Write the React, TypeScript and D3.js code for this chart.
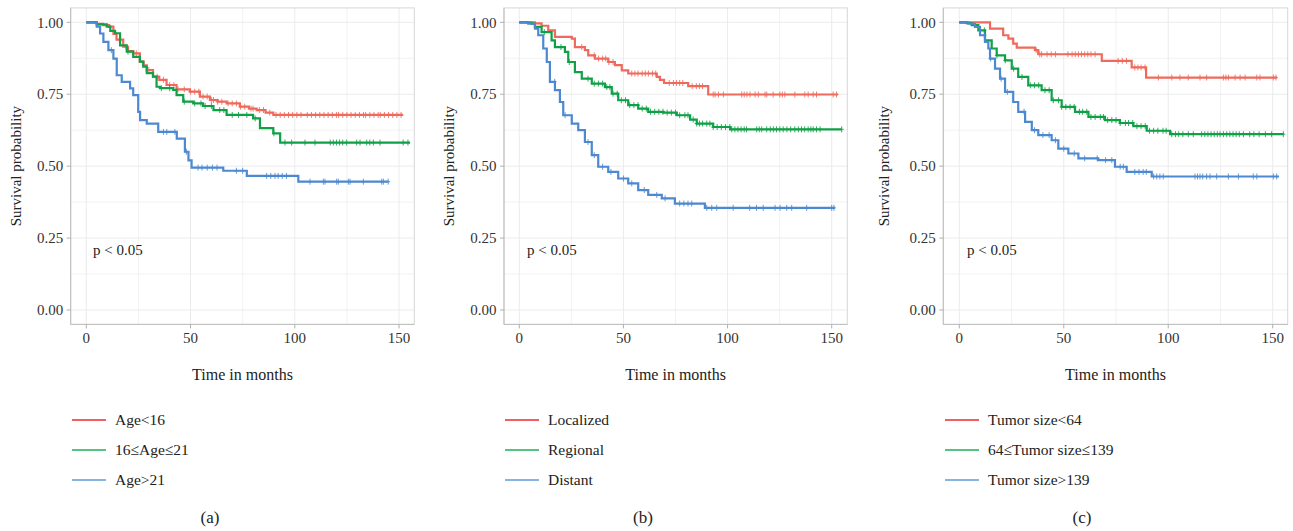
import React from "react";
import * as d3 from "d3";

// ---------- Data ----------
const yTicks = [0, 0.25, 0.5, 0.75, 1];
const xTicks = [0, 50, 100, 150];
const xMinorTicks = [25, 75, 125];
const yMinorTicks = [0.125, 0.375, 0.625, 0.875];

const panelCaptions = ["(a)", "(b)", "(c)"];
const legendA = ["Age<16", "16≤Age≤21", "Age>21"];
const legendB = ["Localized", "Regional", "Distant"];
const legendC = ["Tumor size<64", "64≤Tumor size≤139", "Tumor size>139"];
const pText = "p < 0.05";

// Panel A
const aRedT = [5, 8, 11, 13, 14.5, 17.7, 20, 22.5, 25.7, 27.5, 29, 32, 35, 38.5, 43.3, 49.7, 54.5, 59.3, 63, 67.3, 73.7, 78, 81.7, 86, 89.7];
const aRedS = [0.995, 0.99, 0.985, 0.96, 0.94, 0.915, 0.9, 0.892, 0.863, 0.85, 0.834, 0.811, 0.8, 0.782, 0.767, 0.759, 0.742, 0.73, 0.724, 0.718, 0.707, 0.7, 0.695, 0.686, 0.678];
const aRedEnd = 152;
const aRedC = [19, 24, 30, 34, 37, 40, 42, 44, 47, 50, 52, 54, 56, 58, 60, 61, 63, 65, 68, 70, 72, 74, 76, 79, 80, 83, 85, 88, 91, 93, 95, 97, 99, 101, 103, 106, 108, 110, 112, 114, 116, 118, 120, 121, 123, 125, 127, 129, 131, 133, 134, 136, 138, 140, 141, 143, 145, 147, 149, 151];

const aGreenT = [5, 9.8, 11.5, 13.8, 16.2, 19.4, 22.5, 25.7, 27.3, 29, 32, 33.7, 35.3, 41.7, 43.3, 46.5, 51.3, 56, 61, 67.3, 80, 83.3, 89.7, 93];
const aGreenS = [0.993, 0.985, 0.97, 0.962, 0.92, 0.898, 0.88, 0.863, 0.846, 0.823, 0.811, 0.776, 0.771, 0.765, 0.747, 0.724, 0.718, 0.709, 0.695, 0.678, 0.666, 0.632, 0.614, 0.582];
const aGreenEnd = 155.3;
const aGreenC = [20, 36, 40, 47, 52, 55, 57, 60, 64, 66, 70, 73, 77, 81, 90, 95.3, 98.5, 104.9, 109.7, 117, 118.5, 120, 121.5, 123, 124.9, 129.7, 131.3, 134.5, 136, 137.7, 140.9, 152, 154.3];

const aBlueT = [5, 6.6, 8.2, 10.6, 13, 14.6, 17, 21, 22.5, 24.9, 25.8, 29, 34.5, 43.4, 47.3, 49, 50.5, 65.7, 77, 101.7];
const aBlueS = [0.985, 0.961, 0.932, 0.903, 0.874, 0.816, 0.793, 0.77, 0.747, 0.689, 0.66, 0.648, 0.619, 0.596, 0.55, 0.52, 0.495, 0.484, 0.466, 0.446];
const aBlueEnd = 145;
const aBlueC = [12, 37, 38.6, 42.5, 48, 53.6, 55.5, 58, 60.5, 62.7, 72, 75, 86.5, 88.5, 90.5, 92, 94, 96, 107.3, 113.7, 114.5, 120.1, 120.9, 125.7, 126.5, 132.9, 141.7, 142.5, 144.8];

// Panel B
const bRedT = [7.5, 10.7, 13.9, 17.1, 25.2, 26.7, 31.5, 33.1, 36.3, 42.7, 45.9, 49.2, 52.3, 66, 67.5, 69.5, 81.1, 90.7];
const bRedS = [0.996, 0.988, 0.972, 0.949, 0.943, 0.914, 0.903, 0.885, 0.874, 0.862, 0.851, 0.833, 0.822, 0.81, 0.8, 0.789, 0.778, 0.749];
const bRedEnd = 153;
const bRedC = [30, 36, 38, 40, 41.5, 43, 45, 54, 55.5, 57, 59, 60.5, 62, 64, 65.5, 72, 74, 75.5, 77, 78.5, 83, 85, 86.5, 88, 93.1, 94, 95.6, 98, 106.8, 108, 109.3, 110.8, 113.2, 114.8, 118, 118.8, 121.9, 125.1, 126.3, 127.5, 132.3, 137.1, 138.7, 141.1, 142.7, 150.7, 152.3];

const bGreenT = [4.3, 6, 7.5, 10.7, 15.5, 17.1, 21.9, 23.5, 26.7, 30, 34.8, 41.1, 44.4, 47.5, 52.3, 57.1, 61.9, 69.2, 75.6, 82, 85.2, 93.1, 101.2];
const bGreenS = [0.998, 0.995, 0.984, 0.966, 0.9375, 0.914, 0.897, 0.862, 0.827, 0.804, 0.787, 0.775, 0.752, 0.729, 0.712, 0.7, 0.689, 0.686, 0.677, 0.662, 0.648, 0.636, 0.628];
const bGreenEnd = 154.8;
const bGreenC = [12, 20, 24, 33, 36, 38, 40, 42, 43.5, 45, 47, 49, 51, 53, 55, 57, 59, 61, 63, 65, 67, 69, 71, 73, 75, 77, 79.5, 81, 83.5, 85.2, 86.5, 88, 90, 91.5, 93.1, 95, 97, 99, 101.1, 102, 103.5, 105, 106.5, 108, 109.1, 114, 115.2, 116.4, 118.8, 120.5, 122, 123.5, 125.1, 126.7, 128.5, 130.3, 132.3, 134, 135.5, 137, 138.7, 140, 141.1, 142.7, 144.4, 154.8];

const bBlueT = [4.3, 7.5, 9.1, 11.5, 13.2, 14.7, 17.1, 19.5, 21.1, 25.2, 28.3, 31.5, 34.8, 37.9, 42.7, 47.5, 52.3, 57.1, 61.9, 68.4, 74.7, 89.1];
const bBlueS = [0.995, 0.978, 0.955, 0.909, 0.862, 0.793, 0.764, 0.723, 0.677, 0.648, 0.625, 0.584, 0.538, 0.498, 0.48, 0.457, 0.44, 0.417, 0.4, 0.388, 0.37, 0.355];
const bBlueEnd = 151.5;
const bBlueC = [17, 22, 33, 36, 40, 44, 50, 54, 60, 66, 70, 77, 79, 81, 82.8, 90, 92.4, 94.8, 102.7, 110.6, 113.9, 117.1, 122.8, 125.2, 128.4, 130.8, 138, 150, 151.1];

// Panel C
const cRedT = [14.7, 21, 23.5, 25.8, 27.5, 36.2, 37.8, 68.2, 82.5, 89.4];
const cRedS = [0.978, 0.955, 0.943, 0.926, 0.912, 0.903, 0.889, 0.866, 0.843, 0.808];
const cRedEnd = 152;
const cRedC = [36.8, 38.5, 39.4, 42, 44, 46, 52, 54, 55.5, 57, 58.5, 60, 61.5, 63, 65, 76, 78, 80, 84, 85.5, 87, 88.9, 95.3, 101.7, 105.6, 109.6, 115.2, 118.4, 126.4, 127.6, 128.8, 132, 134.4, 136.8, 142.4, 143.9, 150.3, 151.6];

const cGreenT = [3.5, 5.9, 9.1, 12.3, 15.5, 17.9, 21.9, 25.1, 28.2, 33, 39.4, 44.2, 49, 55.4, 61.8, 69.7, 76.9, 83.3, 89.7, 100.9];
const cGreenS = [0.997, 0.99, 0.972, 0.9375, 0.909, 0.885, 0.868, 0.839, 0.81, 0.781, 0.764, 0.729, 0.706, 0.689, 0.671, 0.66, 0.65, 0.639, 0.623, 0.611];
const cGreenEnd = 155.1;
const cGreenC = [12, 18, 22, 26, 30, 34, 36, 38, 41, 43, 45, 47.5, 49, 51, 53, 55, 57.5, 59, 61, 63, 65, 67.5, 69, 71, 73, 75, 77, 79.5, 81, 83, 85, 87, 89, 91, 93, 95, 97.5, 99, 101.7, 103.5, 105, 107, 109.6, 112, 116, 117.5, 119, 120.5, 122, 123.5, 124.8, 126.4, 128, 129.5, 131, 132.5, 134, 136, 139, 141, 143.5, 146.5, 149.5, 155.1];

const cBlueT = [4.3, 7.5, 9.9, 12.3, 13.9, 14.7, 17.1, 19.5, 21.9, 25.8, 28.2, 31.5, 34.7, 37.8, 44.2, 47.4, 52.2, 57, 66.5, 74.5, 80.1, 92.1];
const cBlueS = [0.995, 0.984, 0.955, 0.932, 0.909, 0.874, 0.839, 0.804, 0.758, 0.723, 0.689, 0.654, 0.625, 0.608, 0.59, 0.561, 0.544, 0.527, 0.521, 0.498, 0.48, 0.464];
const cBlueEnd = 153;
const cBlueC = [12, 15, 20, 23, 31, 36, 40, 43, 46, 50, 55, 60, 66, 70, 73, 77, 78.5, 84, 86, 88, 89.5, 93, 94.5, 96, 97.6, 112.8, 114, 115.2, 116.5, 118.4, 120, 123.2, 128.8, 133.6, 140.7, 142.4, 150.3, 151.9];

// ---------- Styles / layout ----------
const curveColors = ["#EE6A5C", "#10A047", "#4C89D0"];
const legendColors = ["#EC2A2E", "#1DB05A", "#5F9BD6"];
const FONT = "'Liberation Serif', 'Times New Roman', serif";

type Series = { t: number[]; s: number[]; end: number; c: number[] };

const panels = [
  {
    x0: 86.3, x150: 399, left: 70.7, right: 414.3, yTitleX: 16, legendX: 72, captionX: 210, pX: 93,
    legend: legendA, caption: panelCaptions[0],
    series: [
      { t: aRedT, s: aRedS, end: aRedEnd, c: aRedC },
      { t: aGreenT, s: aGreenS, end: aGreenEnd, c: aGreenC },
      { t: aBlueT, s: aBlueS, end: aBlueEnd, c: aBlueC },
    ] as Series[],
  },
  {
    x0: 519.3, x150: 831.7, left: 504, right: 847.3, yTitleX: 449, legendX: 505, captionX: 643, pX: 527,
    legend: legendB, caption: panelCaptions[1],
    series: [
      { t: bRedT, s: bRedS, end: bRedEnd, c: bRedC },
      { t: bGreenT, s: bGreenS, end: bGreenEnd, c: bGreenC },
      { t: bBlueT, s: bBlueS, end: bBlueEnd, c: bBlueC },
    ] as Series[],
  },
  {
    x0: 959.3, x150: 1272.7, left: 943.3, right: 1287.7, yTitleX: 884, legendX: 945, captionX: 1082, pX: 967,
    legend: legendC, caption: panelCaptions[2],
    series: [
      { t: cRedT, s: cRedS, end: cRedEnd, c: cRedC },
      { t: cGreenT, s: cGreenS, end: cGreenEnd, c: cGreenC },
      { t: cBlueT, s: cBlueS, end: cBlueEnd, c: cBlueC },
    ] as Series[],
  },
];

const yScale = d3.scaleLinear().domain([0, 1]).range([310, 22.3]);
const panelTop = yScale(1.05);
const panelBottom = yScale(-0.05);

function stepValue(ser: Series, time: number) {
  let v = 1;
  for (let i = 0; i < ser.t.length; i++) {
    if (ser.t[i] <= time) v = ser.s[i];
  }
  return v;
}

function Panel({ p }: { p: (typeof panels)[number] }) {
  const x = d3.scaleLinear().domain([0, 150]).range([p.x0, p.x150]);
  const line = d3
    .line<[number, number]>()
    .x((d) => x(d[0]))
    .y((d) => yScale(d[1]))
    .curve(d3.curveStepAfter);
  const midY = (panelTop + panelBottom) / 2;
  return (
    <g>
      {/* grid */}
      {xMinorTicks.map((t) => (
        <line key={"xm" + t} x1={x(t)} x2={x(t)} y1={panelTop} y2={panelBottom} stroke="#f1f1f1" strokeWidth={0.9} />
      ))}
      {yMinorTicks.map((t) => (
        <line key={"ym" + t} x1={p.left} x2={p.right} y1={yScale(t)} y2={yScale(t)} stroke="#f1f1f1" strokeWidth={0.9} />
      ))}
      {xTicks.map((t) => (
        <line key={"xg" + t} x1={x(t)} x2={x(t)} y1={panelTop} y2={panelBottom} stroke="#ebebeb" strokeWidth={1} />
      ))}
      {yTicks.map((t) => (
        <line key={"yg" + t} x1={p.left} x2={p.right} y1={yScale(t)} y2={yScale(t)} stroke="#ebebeb" strokeWidth={1} />
      ))}
      {/* border */}
      <rect x={p.left} y={panelTop} width={p.right - p.left} height={panelBottom - panelTop} fill="none" stroke="#d6d6d6" strokeWidth={1} />
      <line x1={p.left} x2={p.left} y1={panelTop} y2={panelBottom} stroke="#bdbdbd" />
      <line x1={p.left} x2={p.right} y1={panelBottom} y2={panelBottom} stroke="#bdbdbd" />
      {/* ticks */}
      {yTicks.map((t) => (
        <g key={"yt" + t}>
          <line x1={p.left - 4} x2={p.left} y1={yScale(t)} y2={yScale(t)} stroke="#b0b0b0" />
          <text x={p.left - 7.5} y={yScale(t)} dy="0.35em" textAnchor="end" fontSize={15} fill="#333" fontFamily={FONT}>
            {d3.format(".2f")(t)}
          </text>
        </g>
      ))}
      {xTicks.map((t) => (
        <g key={"xt" + t}>
          <line x1={x(t)} x2={x(t)} y1={panelBottom} y2={panelBottom + 4} stroke="#b0b0b0" />
          <text x={x(t)} y={338} dy="0.35em" textAnchor="middle" fontSize={15} fill="#333" fontFamily={FONT}>
            {t}
          </text>
        </g>
      ))}
      {/* titles */}
      <text x={(p.left + p.right) / 2} y={374} dy="0.35em" textAnchor="middle" fontSize={16} fill="#222" fontFamily={FONT}>
        Time in months
      </text>
      <text
        transform={`translate(${p.yTitleX},${midY}) rotate(-90)`}
        dy="0.35em"
        textAnchor="middle"
        fontSize={15}
        fill="#222"
        fontFamily={FONT}
      >
        Survival probability
      </text>
      {/* curves */}
      {p.series.map((ser, i) => {
        const pts: [number, number][] = [[0, 1]];
        ser.t.forEach((t, k) => pts.push([t, ser.s[k]]));
        pts.push([ser.end, ser.s[ser.s.length - 1]]);
        return (
          <g key={"s" + i}>
            <path d={line(pts) || ""} fill="none" stroke={curveColors[i]} strokeWidth={2.2} />
            {ser.c.map((c, k) => {
              const cx = x(c);
              const cy = yScale(stepValue(ser, c));
              return (
                <g key={"c" + k} stroke={curveColors[i]} strokeWidth={1} opacity={0.85}>
                  <line x1={cx} x2={cx} y1={cy - 3} y2={cy + 3} />
                  <line x1={cx - 2} x2={cx + 2} y1={cy} y2={cy} />
                </g>
              );
            })}
          </g>
        );
      })}
      <text x={p.pX} y={250} dy="0.35em" fontSize={15} fill="#222" fontFamily={FONT}>
        {pText}
      </text>
      {/* legend */}
      {p.legend.map((lab, i) => {
        const ly = 420 + i * 30;
        return (
          <g key={"lg" + i}>
            <line x1={p.legendX} x2={p.legendX + 34} y1={ly} y2={ly} stroke={legendColors[i]} strokeWidth={1.5} />
            <text x={p.legendX + 43} y={ly} dy="0.35em" fontSize={15.5} fill="#222" fontFamily={FONT}>
              {lab}
            </text>
          </g>
        );
      })}
      <text x={p.captionX} y={517} dy="0.35em" textAnchor="middle" fontSize={17} fill="#222" fontFamily={FONT}>
        {p.caption}
      </text>
    </g>
  );
}

export default function App() {
  return (
    <svg
      width={1293}
      height={531}
      style={{ position: "absolute", left: 0, top: 0, background: "#fff" }}
      xmlns="http://www.w3.org/2000/svg"
    >
      <rect width={1293} height={531} fill="#fff" />
      {panels.map((p, i) => (
        <Panel key={i} p={p} />
      ))}
    </svg>
  );
}
